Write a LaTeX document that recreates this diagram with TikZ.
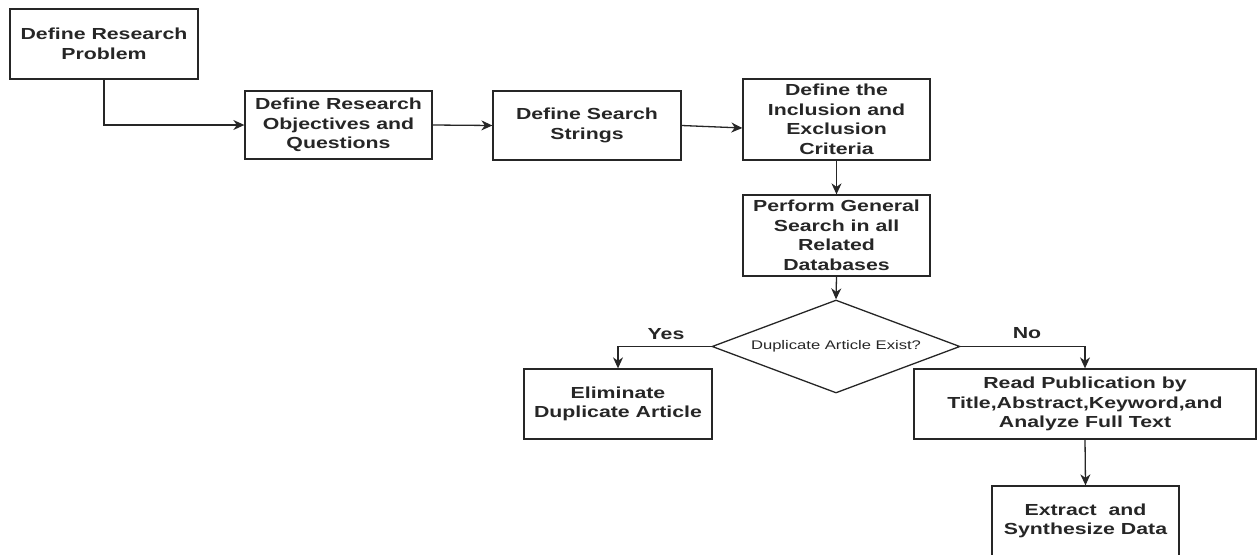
\documentclass[tikz,border=0pt]{standalone}
\usepackage{fontspec}
\setmainfont{Liberation Sans}[FakeStretch=1.33]
\usetikzlibrary{shapes.geometric,arrows.meta}
\begin{document}
\begin{tikzpicture}[x=1pt,y=-1pt,
  box/.style={draw=black!85, line width=1.3pt, rectangle, inner sep=0pt, align=center,
    font=\fontsize{16}{19.5}\selectfont\bfseries, text=black!85},
  flow/.style={draw=black!85, line width=1.3pt, -{Stealth[length=11pt,width=10pt,inset=3.5pt]}},
  lbl/.style={font=\fontsize{16}{19.5}\selectfont\bfseries, text=black!85}]
\useasboundingbox (0,0) rectangle (1257,554);
\node[box, minimum width=188pt, minimum height=70pt] (b1) at (104,44) {Define Research\\Problem};
\node[box, minimum width=187pt, minimum height=68pt] (b2) at (338.5,125) {Define Research\\Objectives and\\Questions};
\node[box, minimum width=188pt, minimum height=69pt] (b3) at (587,125.5) {Define Search\\Strings};
\node[box, minimum width=187pt, minimum height=81pt] (b4) at (836.5,119.5) {Define the\\Inclusion and\\Exclusion\\Criteria};
\node[box, minimum width=187pt, minimum height=81pt] (b5) at (836.5,235.5) {Perform General\\Search in all\\Related\\Databases};
\node[draw=black!85, line width=1.3pt, diamond, minimum width=248pt, minimum height=93pt, inner sep=0pt,
  label={[font=\fontsize{12.5}{15}\selectfont, text=black!85]center:Duplicate Article Exist?}] (d) at (836,346.5) {};
\node[box, minimum width=188pt, minimum height=70pt] (b6) at (618,404) {Eliminate\\Duplicate Article};
\node[box, minimum width=342pt, minimum height=70pt] (b7) at (1085,404) {Read Publication by\\Title,Abstract,Keyword,and\\Analyze Full Text};
\node[box, minimum width=187pt, minimum height=70pt] (b8) at (1085.5,521) {Extract\ \ and\\Synthesize Data};
\coordinate (b4in) at ([yshift=-8.5pt]b4.west);
\draw[flow] (b1.south) |- (b2.west);
\draw[flow] (b2.east) -- (b3.west);
\draw[flow] (b3.east) -- (b4in);
\draw[flow] (b4.south) -- (b5.north);
\draw[flow] (b5.south) -- (d.north);
\draw[flow] (d.west) -| (b6.north);
\draw[flow] (d.east) -| (b7.north);
\draw[flow] (b7.south) -- (b8.north);
\node[lbl] (yes) at (666,334) {Yes};
\node[lbl] (no) at (1027,333) {No};
\end{tikzpicture}
\end{document}
